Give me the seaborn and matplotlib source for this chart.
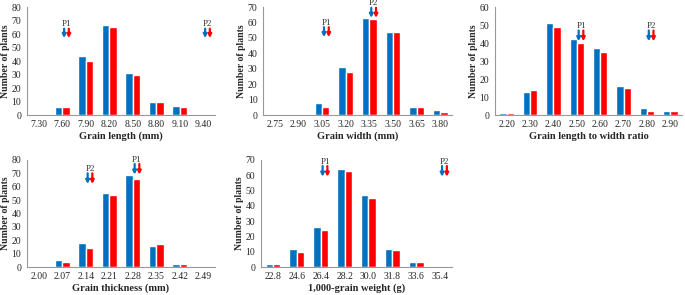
import matplotlib
matplotlib.use("Agg")
import matplotlib.pyplot as plt
import seaborn as sns
import pandas as pd

# Data (two series per trait)
length_bins = ['7.30', '7.60', '7.90', '8.20', '8.50', '8.80', '9.10', '9.40']
length_blue = [0, 6, 44, 67, 31, 10, 7, 1]
length_red = [0, 6, 40, 65, 30, 10, 6, 1]

width_bins = ['2.75', '2.90', '3.05', '3.20', '3.35', '3.50', '3.65', '3.80']
width_blue = [1, 1, 8, 31, 63, 54, 5, 3]
width_red = [1, 1, 5, 28, 62, 54, 5, 2]

ratio_bins = ['2.20', '2.30', '2.40', '2.50', '2.60', '2.70', '2.80', '2.90']
ratio_blue = [1, 13, 51, 42, 37, 16, 4, 2]
ratio_red = [1, 14, 49, 40, 35, 15, 2, 2]

thick_bins = ['2.00', '2.07', '2.14', '2.21', '2.28', '2.35', '2.42', '2.49']
thick_blue = [0, 5, 18, 55, 69, 16, 2, 1]
thick_red = [0, 4, 14, 54, 66, 17, 2, 1]

weight_bins = ['22.8', '24.6', '26.4', '28.2', '30.0', '31.8', '33.6', '35.4']
weight_blue = [2, 12, 26, 64, 47, 12, 3, 0]
weight_red = [2, 10, 24, 63, 45, 11, 3, 0]

# parent markers: (label, bin index, arrow top, arrow bottom)
length_parents = [('P1', 1, 64, 57), ('P2', 7, 64, 57)]
width_parents = [('P1', 2, 57, 50.5), ('P2', 4, 69.5, 63)]
ratio_parents = [('P1', 3, 47, 41), ('P2', 6, 47, 41)]
thick_parents = [('P2', 2, 70, 62), ('P1', 4, 77, 69)]
weight_parents = [('P1', 2, 66, 59), ('P2', 7, 66, 59)]

BLUE = '#0070C0'
RED = '#FF0000'

sns.set_style('white')
plt.rcParams['font.family'] = ['Liberation Serif', 'DejaVu Serif']


def draw_panel(ax, bins, blue, red, parents, xlabel, ymax):
    df = pd.DataFrame({
        'bin': bins * 2,
        'count': blue + red,
        'series': ['A'] * len(bins) + ['B'] * len(bins),
    })
    sns.barplot(data=df, x='bin', y='count', hue='series', order=bins,
                palette=[BLUE, RED], width=0.62, saturation=1,
                legend=False, ax=ax)
    ax.set_xlim(-0.5, len(bins) - 0.5)
    ax.set_ylim(0, ymax)
    ax.set_yticks(range(0, ymax + 1, 10))
    ax.set_xticks([i - 0.5 for i in range(len(bins) + 1)], minor=True)
    ax.tick_params(axis='x', which='major', length=0, labelsize=7, pad=3.5)
    ax.tick_params(axis='x', which='minor', length=3, color='#999999')
    ax.tick_params(axis='y', length=2.5, color='#999999', labelsize=7, pad=1.5)
    for side in ['top', 'right']:
        ax.spines[side].set_visible(False)
    for side in ['left', 'bottom']:
        ax.spines[side].set_color('#999999')
        ax.spines[side].set_linewidth(0.8)
    ax.set_xlabel(xlabel, fontsize=7.5, fontweight='bold', labelpad=2)
    ax.set_ylabel('Number of plants', fontsize=7, fontweight='bold', labelpad=1)
    for name, idx, top, bot in parents:
        for off, col in [(0.08, BLUE), (0.28, RED)]:
            ax.annotate('', xy=(idx + off, bot), xytext=(idx + off, top),
                        arrowprops=dict(arrowstyle='-|>', color=col, lw=1.6,
                                        mutation_scale=5, shrinkA=0, shrinkB=0),
                        annotation_clip=False)
        ax.text(idx + 0.18, top + 0.3, name, ha='center', va='bottom',
                fontsize=6.5, color='#333333', clip_on=False)


fig = plt.figure(figsize=(6.85, 2.95), dpi=100)
ax1 = fig.add_axes([0.0394, 0.610, 0.2745, 0.366])
ax2 = fig.add_axes([0.384, 0.610, 0.276, 0.366])
ax3 = fig.add_axes([0.7226, 0.610, 0.273, 0.366])
ax4 = fig.add_axes([0.0394, 0.0949, 0.2745, 0.363])
ax5 = fig.add_axes([0.381, 0.0949, 0.279, 0.363])

draw_panel(ax1, length_bins, length_blue, length_red, length_parents, 'Grain length (mm)', 80)
draw_panel(ax2, width_bins, width_blue, width_red, width_parents, 'Grain width (mm)', 70)
draw_panel(ax3, ratio_bins, ratio_blue, ratio_red, ratio_parents, 'Grain length to width ratio', 60)
draw_panel(ax4, thick_bins, thick_blue, thick_red, thick_parents, 'Grain thickness (mm)', 80)
draw_panel(ax5, weight_bins, weight_blue, weight_red, weight_parents, '1,000-grain weight (g)', 70)

fig.savefig('out.png', dpi=100)
